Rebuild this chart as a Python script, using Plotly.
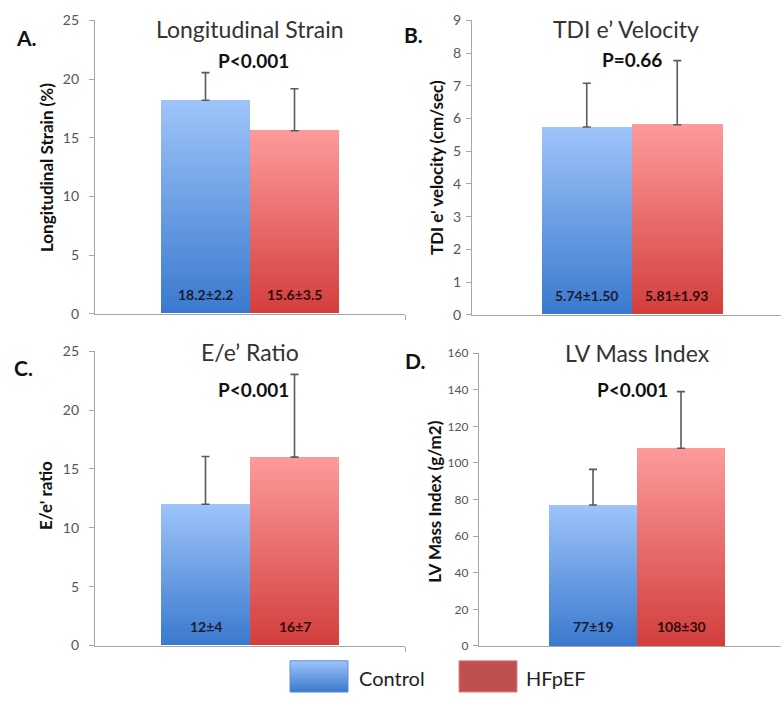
import plotly.graph_objects as go

# ---------------- data ----------------
panel_letters = ["A.", "B.", "C.", "D."]
titles = ["Longitudinal Strain", "TDI e’ Velocity", "E/e’ Ratio", "LV Mass Index"]
y_titles = ["Longitudinal Strain (%)", "TDI e' velocity (cm/sec)", "E/e' ratio", "LV Mass Index (g/m2)"]
p_values = ["P<0.001", "P=0.66", "P<0.001", "P<0.001"]
groups = ["Control", "HFpEF"]
control_means = [18.2, 5.74, 12, 77]
hfpef_means = [15.6, 5.81, 16, 108]
control_err = [2.35, 1.34, 4.05, 19.5]
hfpef_err = [3.57, 1.96, 7.03, 31.0]
control_labels = ["18.2±2.2", "5.74±1.50", "12±4", "77±19"]
hfpef_labels = ["15.6±3.5", "5.81±1.93", "16±7", "108±30"]
y_max = [25, 9, 25, 160]
y_dtick = [5, 1, 5, 20]

# ---------------- layout constants (pixels) ----------------
W, H = 781, 702
# x px start, x px end (visible), full axis px width, y px top, y px bottom
boxes = [
    (95, 405, 310, 11.7, 312.3),
    (472, 781, 320, 11.7, 313.3),
    (95, 405, 310, 350.7, 652.3),
    (479, 781, 316, 352.7, 652.7),
]
bar_px = [89, 90.5, 89, 88]
tick_sizes = [14, 14, 14, 12]
tick_standoff = [7, 2, 7, 2]
title_pos = [(250, 20), (626, 20), (250, 352), (637, 353)]
p_pos = [(253, 53), (632, 52), (253, 390), (632, 390)]
letter_pos = [(26, 29), (414, 26), (23, 367), (415, 360)]
ytitle_pos = [(46, 163), (436, 163), (46, 499), (435, 505)]

FONT = "Lato, 'Open Sans', sans-serif"
AXIS_GREY = "#a6a6a6"

blue_top, blue_bot = (158, 196, 250), (58, 121, 205)
red_top, red_bot = (253, 155, 155), (210, 62, 60)


def lerp(c1, c2, t):
    return "rgb(%d,%d,%d)" % tuple(round(a + (b - a) * t) for a, b in zip(c1, c2))


def px(x):
    return x / W


def py(y):
    return 1 - y / H


def note(x, y, text, size, color="#111111", angle=0, xanchor="center"):
    return dict(x=px(x), y=py(y), xref="paper", yref="paper", xanchor=xanchor, yanchor="middle",
                text=text, showarrow=False, textangle=angle,
                font=dict(family=FONT, size=size, color=color))


fig = go.Figure()
N = 40
annotations = []
shapes = []

for i in range(4):
    x0, x1, full, yt, yb = boxes[i]
    ax = "" if i == 0 else str(i + 1)
    xref, yref = "x" + ax, "y" + ax
    w = bar_px[i] / full
    means = [control_means[i], hfpef_means[i]]
    errs = [control_err[i], hfpef_err[i]]
    labels = [control_labels[i], hfpef_labels[i]]
    centers = [-w / 2, w / 2]
    cols = [(blue_bot, blue_top), (red_bot, red_top)]
    for g in range(2):
        v = means[g]
        for k in range(N, 0, -1):
            t = (k - 0.5) / N
            fig.add_trace(go.Bar(
                x=[centers[g]], y=[v * k / N], width=[w],
                marker=dict(color=lerp(cols[g][0], cols[g][1], t), line=dict(width=0)),
                xaxis=xref, yaxis=yref, showlegend=False, hoverinfo="skip",
            ))
        annotations.append(dict(
            x=centers[g], y=0, xref=xref, yref=yref, yshift=19, showarrow=False,
            xanchor="center", yanchor="middle",
            text="<b>%s</b>" % labels[g],
            font=dict(family=FONT, size=14, color="#1c1c34" if g == 0 else "#2e0d0d"),
        ))
    fig.add_trace(go.Scatter(
        x=centers, y=means, mode="markers", marker=dict(size=1, opacity=0),
        error_y=dict(type="data", symmetric=False, array=errs, arrayminus=[0, 0],
                     color="#5a5a5a", thickness=1.6, width=4),
        xaxis=xref, yaxis=yref, showlegend=False, hoverinfo="skip",
    ))
    vis = (x1 - x0) / full
    fig.layout["xaxis" + ax] = dict(
        domain=[px(x0), px(x1)], range=[-0.5, -0.5 + vis], anchor=yref,
        showgrid=False, zeroline=False, showline=True, linecolor=AXIS_GREY, linewidth=1.3,
        tickvals=[0.5], ticktext=[""], ticks="outside", ticklen=5, tickcolor=AXIS_GREY,
        fixedrange=True,
    )
    fig.layout["yaxis" + ax] = dict(
        domain=[py(yb), py(yt)], range=[0, y_max[i]], dtick=y_dtick[i], anchor=xref,
        showgrid=False, zeroline=False, showline=True, linecolor=AXIS_GREY, linewidth=1.3,
        ticks="outside", ticklen=5, tickcolor=AXIS_GREY, ticklabelstandoff=tick_standoff[i],
        tickfont=dict(family=FONT, size=tick_sizes[i], color="#555555"),
        fixedrange=True,
    )
    annotations.append(note(*title_pos[i], titles[i], 23, "#333333"))
    annotations.append(note(*p_pos[i], "<b>%s</b>" % p_values[i], 19))
    annotations.append(note(*letter_pos[i], "<b>%s</b>" % panel_letters[i], 21))
    annotations.append(note(*ytitle_pos[i], "<b>%s</b>" % y_titles[i], 17, angle=-90))

# ---------------- legend (drawn manually) ----------------
lx0, lx1, ly0, ly1 = 290, 348, 668, 700
M = 20
for k in range(M, 0, -1):
    t = (k - 0.5) / M
    shapes.append(dict(type="rect", xref="paper", yref="paper",
                       x0=px(lx0), x1=px(lx1),
                       y0=py(ly1), y1=py(ly1 - (ly1 - ly0) * k / M),
                       fillcolor=lerp(blue_bot, blue_top, t), line=dict(width=0)))
shapes.append(dict(type="rect", xref="paper", yref="paper", x0=px(lx0), x1=px(lx1),
                   y0=py(ly1), y1=py(ly0), line=dict(color="#5b8fd6", width=1)))
shapes.append(dict(type="rect", xref="paper", yref="paper", x0=px(459), x1=px(517),
                   y0=py(700), y1=py(668), fillcolor="#c0504d", line=dict(color="#d98a88", width=1)))
annotations.append(note(357, 686, groups[0], 20, "#222222", xanchor="left"))
annotations.append(note(524, 686, groups[1], 20, "#222222", xanchor="left"))

fig.update_layout(
    width=W, height=H, margin=dict(l=0, r=0, t=0, b=0),
    paper_bgcolor="white", plot_bgcolor="white",
    barmode="overlay", bargap=0, showlegend=False,
    annotations=annotations, shapes=shapes,
)

fig.write_html("out.html")
